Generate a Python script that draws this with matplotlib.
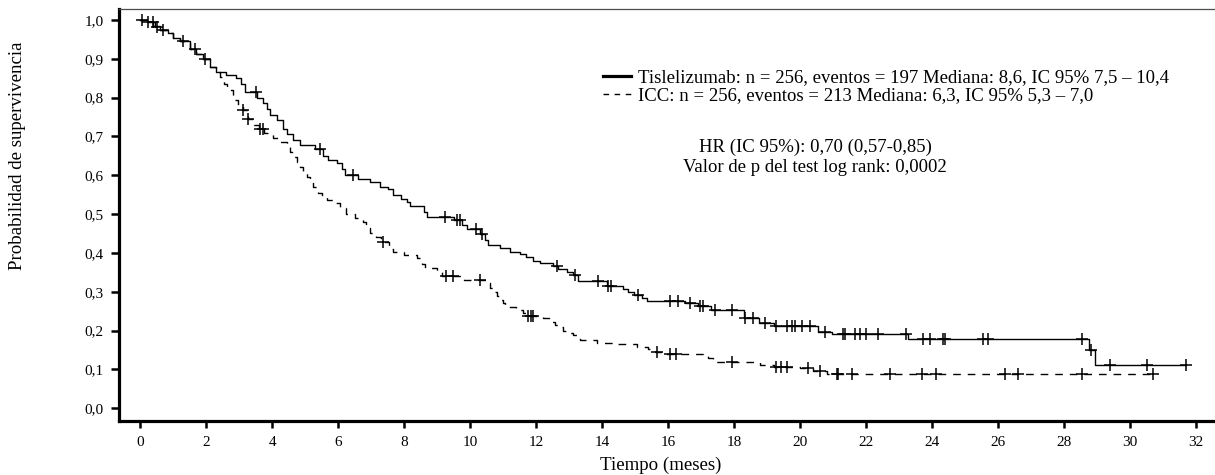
import numpy as np
import matplotlib.pyplot as plt
from matplotlib.lines import Line2D

plt.rcParams['font.family'] = ['Liberation Serif', 'DejaVu Serif']

# --- Tislelizumab: tiempos de caída y supervivencia tras la caída ---
tis_t = [0, 0.2, 0.4, 0.6, 0.85, 1.0, 1.2, 1.5, 1.7, 1.9, 2.1, 2.3, 2.6, 2.9,
         3.05, 3.17, 3.55, 3.73, 3.85, 3.93, 4.15, 4.33, 4.45, 4.64, 4.84,
         5.3, 5.55, 5.7, 5.95, 6.1, 6.2, 6.6, 6.96, 7.26, 7.5, 7.67, 7.9,
         8.07, 8.17, 8.6, 8.7, 9.5, 9.75, 9.9, 10.3, 10.45, 10.55, 10.9,
         11.2, 11.5, 11.7, 11.9, 12.1, 12.5, 12.65, 12.92, 13.1, 13.27,
         14.15, 14.64, 14.79, 14.95, 15.2, 15.35, 16.5, 16.9, 17.3, 18.3,
         18.75, 19.2, 20.55, 20.95, 23.27, 28.75, 28.93]
tis_s = [1.0, 0.995, 0.985, 0.975, 0.966, 0.953, 0.945, 0.925, 0.912, 0.9,
         0.878, 0.867, 0.858, 0.85, 0.835, 0.815, 0.8, 0.785, 0.77, 0.755,
         0.742, 0.72, 0.705, 0.69, 0.678, 0.668, 0.65, 0.64, 0.632, 0.615,
         0.6, 0.59, 0.582, 0.571, 0.565, 0.55, 0.54, 0.532, 0.52, 0.505,
         0.492, 0.485, 0.472, 0.462, 0.448, 0.432, 0.42, 0.412, 0.403, 0.397,
         0.39, 0.38, 0.373, 0.366, 0.358, 0.352, 0.342, 0.329, 0.315, 0.307,
         0.3, 0.292, 0.283, 0.277, 0.27, 0.263, 0.254, 0.232, 0.22, 0.212,
         0.197, 0.191, 0.178, 0.150, 0.1115]
tis_fin = 31.7
tis_cens = [0.04, 0.39, 0.7, 1.3, 1.96, 3.5, 5.45, 6.45, 9.23, 9.59, 9.7,
            10.19, 10.35, 12.62, 13.17, 13.88, 14.18, 14.28, 15.09, 16.05,
            16.3, 16.66, 16.96, 17.06, 17.42, 17.92, 18.32, 18.58, 18.93,
            19.28, 19.59, 19.74, 19.84, 20.04, 20.29, 20.75, 21.3, 21.35,
            21.66, 21.8, 22.0, 22.36, 23.22, 23.73, 23.93, 24.33, 24.38,
            25.55, 25.7, 28.53, 28.8, 29.38, 30.5, 31.69]

# --- ICC ---
icc_t = [0, 0.2, 0.45, 0.6, 0.85, 1.0, 1.2, 1.5, 1.7, 1.9, 2.1, 2.3, 2.42,
         2.55, 2.62, 2.82, 2.95, 3.1, 3.27, 3.45, 3.6, 3.75, 4.03, 4.25,
         4.44, 4.55, 4.64, 4.75, 4.84, 4.94, 5.04, 5.15, 5.24, 5.4, 5.5,
         5.65, 5.85, 6.05, 6.25, 6.5, 6.76, 6.85, 6.96, 7.15, 7.3, 7.55,
         7.67, 8.0, 8.38, 8.55, 8.63, 8.98, 9.15, 9.8, 10.5, 10.6, 10.7,
         10.8, 10.9, 11.0, 11.05, 11.4, 11.6, 11.7, 12.21, 12.4, 12.57, 12.7,
         12.82, 13.0, 13.12, 13.25, 13.32, 13.83, 14.44, 15.04, 15.4, 15.6,
         15.9, 17.2, 17.36, 18.77, 19.2, 19.99, 20.4, 20.8]
icc_s = [1.0, 0.995, 0.983, 0.975, 0.966, 0.953, 0.945, 0.925, 0.912, 0.9,
         0.878, 0.865, 0.854, 0.835, 0.82, 0.795, 0.78, 0.768, 0.745, 0.73,
         0.72, 0.71, 0.695, 0.685, 0.674, 0.66, 0.648, 0.635, 0.622, 0.605,
         0.596, 0.583, 0.571, 0.555, 0.545, 0.536, 0.528, 0.515, 0.5, 0.49,
         0.48, 0.465, 0.451, 0.44, 0.428, 0.41, 0.403, 0.395, 0.386, 0.372,
         0.36, 0.352, 0.34, 0.33, 0.322, 0.31, 0.3, 0.29, 0.279, 0.27, 0.262,
         0.253, 0.245, 0.238, 0.232, 0.222, 0.215, 0.208, 0.2, 0.194, 0.188,
         0.18, 0.175, 0.169, 0.166, 0.159, 0.152, 0.146, 0.14, 0.13, 0.12,
         0.111, 0.107, 0.103, 0.097, 0.088]
icc_fin = 30.8
icc_cens = [0.24, 0.5, 1.66, 3.12, 3.27, 3.63, 3.73, 7.36, 9.28, 9.48,
            10.29, 11.76, 11.85, 11.91, 15.65, 16.05, 16.25, 17.92, 19.28,
            19.43, 19.59, 20.24, 20.6, 21.1, 21.15, 21.56, 22.72, 23.68,
            24.13, 26.2, 26.6, 28.53, 30.7]

y_ticks = [0.0, 0.1, 0.2, 0.3, 0.4, 0.5, 0.6, 0.7, 0.8, 0.9, 1.0]
y_labels = ['0,0', '0,1', '0,2', '0,3', '0,4', '0,5', '0,6', '0,7', '0,8', '0,9', '1,0']
x_ticks = list(range(0, 33, 2))

lab_tis = 'Tislelizumab: n = 256, eventos = 197 Mediana: 8,6, IC 95% 7,5 \u2013 10,4'
lab_icc = 'ICC: n = 256, eventos = 213 Mediana: 6,3, IC 95% 5,3 \u2013 7,0'


def escalon(t, s, fin):
    return np.append(t, fin), np.append(s, s[-1])


def valor_en(t, s, c):
    idx = np.searchsorted(t, c, side='right') - 1
    return np.asarray(s)[idx]


fig = plt.figure(figsize=(12.15, 4.75), dpi=100)
ax = fig.add_axes([0.0979, 0.1143, 0.9021, 0.8667])

dash = (5.5, 5)
x1, y1 = escalon(tis_t, tis_s, tis_fin)
ax.step(x1, y1, where='post', color='black', lw=1.0)
ax.plot(tis_cens, valor_en(tis_t, tis_s, tis_cens), '+', color='black', ms=9, mew=1.1)

x2, y2 = escalon(icc_t, icc_s, icc_fin)
ax.step(x2, y2, where='post', color='black', lw=1.0, dashes=dash)
ax.plot(icc_cens, valor_en(icc_t, icc_s, icc_cens), '+', color='black', ms=9, mew=1.1)

ax.set_xlim(-0.645, 32.57)
ax.set_ylim(-0.032, 1.028)
ax.set_xticks(x_ticks)
ax.set_yticks(y_ticks)
ax.set_yticklabels(y_labels)

for s in ['left', 'bottom']:
    ax.spines[s].set_linewidth(2.3)
ax.spines['right'].set_visible(False)
ax.spines['top'].set_linewidth(0.9)
ax.spines['top'].set_color('0.3')

ax.tick_params(axis='y', length=6, width=1.8, pad=5, labelsize=11)
ax.tick_params(axis='x', length=5, width=1.8, pad=6, labelsize=11)

fig.text(661 / 1215, 1 - 465 / 475, 'Tiempo (meses)', ha='center', va='center', fontsize=13.6)
fig.text(18 / 1215, 1 - 156 / 475, 'Probabilidad de supervivencia', ha='center', va='center',
         rotation=90, fontsize=13.6)

handles = [Line2D([], [], color='black', lw=2.3),
           Line2D([], [], color='black', lw=1.0, dashes=(4, 4))]
ax.legend(handles, [lab_tis, lab_icc], loc='upper left',
          bbox_to_anchor=(594 / 1215, 1 - 60 / 475), bbox_transform=fig.transFigure,
          frameon=False, borderpad=0, handlelength=1.45, handletextpad=0.4,
          labelspacing=0.05, fontsize=13.5)

fig.text(815 / 1215, 1 - 147 / 475, 'HR (IC 95%): 0,70 (0,57-0,85)', ha='center', va='center', fontsize=13.5)
fig.text(815 / 1215, 1 - 168 / 475, 'Valor de p del test log rank: 0,0002', ha='center', va='center', fontsize=13.5)

fig.savefig('out.png', dpi=100)
